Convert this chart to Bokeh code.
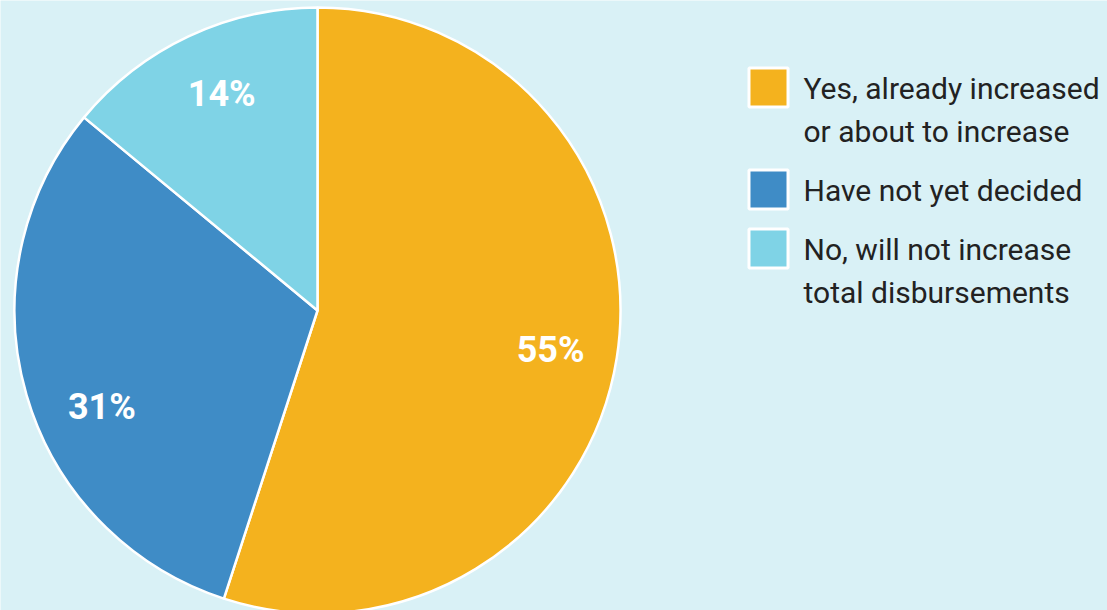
import math
from bokeh.plotting import figure
from bokeh.models import Range1d, ColumnDataSource
from bokeh.core.properties import value
from bokeh.embed import file_html
from bokeh.resources import INLINE

categories = ["Yes, already increased\nor about to increase",
              "Have not yet decided",
              "No, will not increase\ntotal disbursements"]
shares = [55, 31, 14]
colors = ["#F4B21E", "#3F8CC6", "#7FD3E6"]
label_angle_nudge_deg = [0.5, -8.0, 1.3]

W, H = 1107, 610
BG = "#D9F1F6"

p = figure(width=W, height=H, output_backend="svg", toolbar_location=None,
           x_range=Range1d(0, W), y_range=Range1d(0, H), min_border=0)
p.axis.visible = False
p.grid.visible = False
p.outline_line_color = None
p.background_fill_color = BG
p.border_fill_color = BG

cx, cy, r = 317, H - 310, 303
total = sum(shares)
starts, ends, lx, ly = [], [], [], []
acc = 0.0
for s, nd in zip(shares, label_angle_nudge_deg):
    a0 = math.pi / 2 - 2 * math.pi * acc / total
    a1 = math.pi / 2 - 2 * math.pi * (acc + s) / total
    starts.append(a0)
    ends.append(a1)
    mid = (a0 + a1) / 2 - math.radians(nd)
    lx.append(cx + 0.78 * r * math.cos(mid))
    ly.append(cy + 0.78 * r * math.sin(mid))
    acc += s

src = ColumnDataSource(dict(start=starts, end=ends, color=colors,
                            lx=lx, ly=ly, lab=[f"{s}%" for s in shares]))
p.wedge(x=cx, y=cy, radius=r, start_angle="start", end_angle="end",
        direction="clock", fill_color="color", line_color="white",
        line_width=2.5, source=src)
p.text(x="lx", y="ly", text="lab", source=src, text_color="white",
       text_font=value("Roboto"), text_font_style="bold",
       text_font_size="36px", text_align="center", text_baseline="middle")

# legend
sq_x, sq_y = [], []
tx, ty, tt = [], [], []
y = 67
line_h = 43
for cat in categories:
    lines = cat.split("\n")
    sq_x.append(768)
    sq_y.append(H - (y + 20))
    for i, ln in enumerate(lines):
        tx.append(803)
        ty.append(H - (y + 21 + i * line_h))
        tt.append(ln)
    y += len(lines) * line_h + 16

p.rect(x=sq_x, y=sq_y, width=39, height=39, fill_color=colors,
       line_color="white", line_width=3)
p.text(x=tx, y=ty, text=tt, text_color="#222222", text_font=value("Roboto"),
       text_font_size="30px", text_align="left", text_baseline="middle")

open("out.html", "w").write(file_html(p, INLINE))
